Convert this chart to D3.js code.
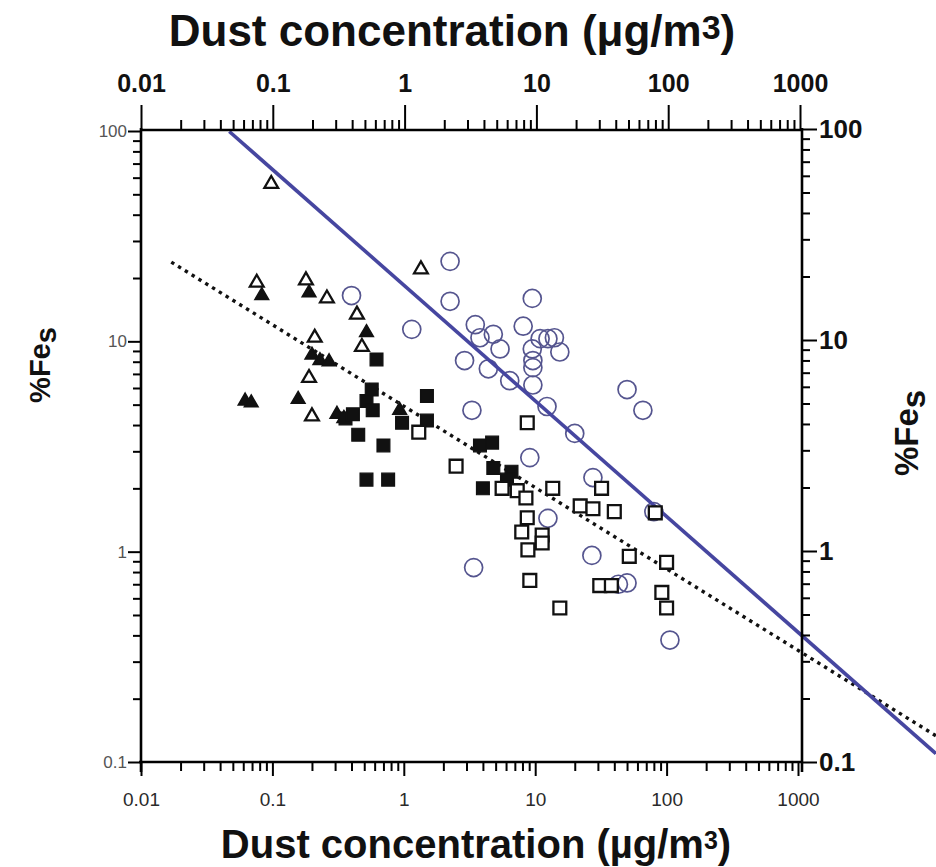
<!DOCTYPE html>
<html>
<head>
<meta charset="utf-8">
<script src="https://cdn.jsdelivr.net/npm/d3@7/dist/d3.min.js"></script>
<style>
  html, body { margin: 0; padding: 0; background: #fff; }
  svg { display: block; }
  text { font-family: "Liberation Sans", Arial, Helvetica, sans-serif; }
</style>
</head>
<body>
<svg id="chart" width="936" height="867"></svg>
<script>
// ---- data: [dust concentration (µg/m3), %Fes] ----
const openTriangles = [
  [0.098, 56], [0.076, 19], [0.18, 19.5], [0.26, 16], [0.44, 13.4],
  [0.48, 9.4], [0.21, 10.4], [0.19, 6.7], [0.2, 4.4], [1.35, 22]
];
const filledTriangles = [
  [0.083, 16.5], [0.19, 17], [0.52, 11], [0.2, 8.6], [0.23, 8.1],
  [0.27, 8.0], [0.062, 5.2], [0.069, 5.1], [0.157, 5.3], [0.31, 4.5],
  [0.35, 4.3], [0.93, 4.7]
];
const filledSquares = [
  [0.62, 8.2], [0.57, 5.9], [0.52, 5.2], [0.58, 4.7], [0.36, 4.3],
  [0.41, 4.5], [0.45, 3.6], [0.7, 3.2], [0.52, 2.2], [0.76, 2.2],
  [1.5, 5.5], [1.5, 4.2], [0.97, 4.1], [3.8, 3.2], [4.7, 3.3],
  [4.8, 2.5], [6.6, 2.4], [4.0, 2.0], [6.1, 2.2]
];
const openSquares = [
  [1.3, 3.7], [8.7, 4.1], [2.5, 2.55], [5.6, 2.0], [7.3, 1.95],
  [8.5, 1.8], [13.6, 2.0], [8.7, 1.45], [7.9, 1.24], [11.3, 1.2],
  [11.3, 1.1], [8.8, 1.02], [9.1, 0.73], [15.4, 0.54], [22, 1.65],
  [27.5, 1.6], [32, 2.0], [40, 1.55], [82, 1.53], [52, 0.95],
  [100, 0.89], [92, 0.64], [100, 0.54], [31, 0.69], [38, 0.69]
];
const openCircles = [
  [2.25, 24], [0.4, 16.5], [2.25, 15.5], [9.5, 16], [1.15, 11.4],
  [3.5, 12], [8.1, 11.8], [3.8, 10.4], [4.8, 10.8], [5.4, 9.2],
  [2.9, 8.1], [4.4, 7.4], [6.4, 6.5], [9.5, 9.2], [10.9, 10.3],
  [12.5, 10.3], [14, 10.4], [15.4, 8.9], [9.6, 8.1], [9.6, 7.5],
  [9.6, 6.2], [3.3, 4.7], [12.3, 4.9], [20, 3.65], [50, 5.9],
  [66, 4.7], [9.1, 2.8], [27.5, 2.25], [12.5, 1.44], [3.4, 0.84],
  [27, 0.96], [43, 0.7], [50, 0.71], [106, 0.38], [80, 1.55]
];

// power-law fits: %Fes = coef * dust^expo, drawn over a dust range
const solidFit = { coef: 18.5, expo: -0.55, from: 0.047, to: 11200 };
const dottedFit = { coef: 4.92, expo: -0.387, from: 0.017, to: 11200 };

// axis ticks
const xMajor = [0.01, 0.1, 1, 10, 100, 1000];
const yMajor = [0.1, 1, 10, 100];
const xTickLabels = ["0.01", "0.1", "1", "10", "100", "1000"];
const yTickLabels = ["0.1", "1", "10", "100"];

// ---- layout ----
const svg = d3.select("#chart");
const x = d3.scaleLog().domain([0.01, 1000]).range([141, 798]);
const xTop = d3.scaleLog().domain([0.01, 1000]).range([141, 800]);
const y = d3.scaleLog().domain([0.1, 100]).range([762, 131]);
const yRight = d3.scaleLog().domain([0.1, 100]).range([762, 129]);

function minorsOf(majors) {
  const out = [];
  for (let i = 0; i < majors.length - 1; i++) {
    for (let k = 2; k <= 9; k++) out.push(majors[i] * k);
  }
  return out;
}
const xMinor = minorsOf(xMajor);
const yMinor = minorsOf(yMajor);

const blue = "#4646a0";
const circleColor = "#55558f";

// ---- fit lines ----
function fitPoints(f) {
  return [f.from, f.to].map(v => [v, f.coef * Math.pow(v, f.expo)]);
}
const line = d3.line().x(d => x(d[0])).y(d => y(d[1]));

svg.append("path")
  .attr("d", line(fitPoints(dottedFit)))
  .attr("fill", "none")
  .attr("stroke", "#111")
  .attr("stroke-width", 3.4)
  .attr("stroke-dasharray", "3.4 4.6");

// ---- markers ----
svg.append("g").selectAll("circle")
  .data(openCircles).join("circle")
  .attr("cx", d => x(d[0])).attr("cy", d => y(d[1]))
  .attr("r", 9)
  .attr("fill", "none")
  .attr("stroke", circleColor)
  .attr("stroke-width", 1.7);

svg.append("path")
  .attr("d", line(fitPoints(solidFit)))
  .attr("fill", "none")
  .attr("stroke", blue)
  .attr("stroke-width", 3.6);

const tri = d3.symbol().type(d3.symbolTriangle).size(82);
const sq = d3.symbol().type(d3.symbolSquare).size(165);

svg.append("g").selectAll("path")
  .data(openTriangles).join("path")
  .attr("d", tri)
  .attr("transform", d => `translate(${x(d[0])},${y(d[1])})`)
  .attr("fill", "#fff").attr("stroke", "#111").attr("stroke-width", 2.3)
  .attr("stroke-linejoin", "miter");

svg.append("g").selectAll("path")
  .data(filledTriangles).join("path")
  .attr("d", tri)
  .attr("transform", d => `translate(${x(d[0])},${y(d[1])})`)
  .attr("fill", "#111").attr("stroke", "#111").attr("stroke-width", 1.5);

svg.append("g").selectAll("path")
  .data(filledSquares).join("path")
  .attr("d", sq)
  .attr("transform", d => `translate(${x(d[0])},${y(d[1])})`)
  .attr("fill", "#111").attr("stroke", "#111").attr("stroke-width", 1.2);

svg.append("g").selectAll("path")
  .data(openSquares).join("path")
  .attr("d", sq)
  .attr("transform", d => `translate(${x(d[0])},${y(d[1])})`)
  .attr("fill", "#fff").attr("stroke", "#111").attr("stroke-width", 2.3);

// ---- axes ----
function styleAxis(g, labelStyle) {
  g.select(".domain").remove();
  g.selectAll(".tick line").attr("stroke", "#000").attr("stroke-width", 2);
  if (labelStyle) {
    g.selectAll(".tick text")
      .attr("fill", labelStyle.fill)
      .attr("font-size", labelStyle.size)
      .attr("font-weight", labelStyle.weight);
  }
}

// bottom
svg.append("g").attr("transform", "translate(0,762)")
  .call(d3.axisBottom(x).tickValues(xMinor).tickSize(9).tickFormat(""))
  .call(g => styleAxis(g));
svg.append("g").attr("transform", "translate(0,762)")
  .call(d3.axisBottom(x).tickValues(xMajor).tickSize(14).tickPadding(17)
    .tickFormat((d, i) => xTickLabels[i]))
  .call(g => styleAxis(g, { fill: "#2a2a2a", size: 19, weight: "normal" }));

// left
svg.append("g").attr("transform", "translate(141,0)")
  .call(d3.axisLeft(y).tickValues(yMinor).tickSize(8).tickFormat(""))
  .call(g => styleAxis(g));
svg.append("g").attr("transform", "translate(141,0)")
  .call(d3.axisLeft(y).tickValues(yMajor).tickSize(13).tickPadding(1)
    .tickFormat((d, i) => yTickLabels[i]))
  .call(g => styleAxis(g, { fill: "#555", size: 17, weight: "normal" }));

// top
svg.append("g").attr("transform", "translate(0,130)")
  .call(d3.axisTop(xTop).tickValues(xMinor).tickSize(10).tickFormat(""))
  .call(g => styleAxis(g));
svg.append("g").attr("transform", "translate(0,130)")
  .call(d3.axisTop(xTop).tickValues(xMajor).tickSize(25).tickPadding(13)
    .tickFormat((d, i) => xTickLabels[i]))
  .call(g => styleAxis(g, { fill: "#111", size: 25, weight: "bold" }));

// right
svg.append("g").attr("transform", "translate(802,0)")
  .call(d3.axisRight(yRight).tickValues(yMinor).tickSize(8).tickFormat(""))
  .call(g => styleAxis(g));
svg.append("g").attr("transform", "translate(802,0)")
  .call(d3.axisRight(yRight).tickValues(yMajor).tickSize(15).tickPadding(2)
    .tickFormat((d, i) => yTickLabels[i]))
  .call(g => styleAxis(g, { fill: "#111", size: 26, weight: "bold" }));

// frame lines
const frame = svg.append("g").attr("stroke", "#000").attr("stroke-width", 2.6);
frame.append("line").attr("x1", 141).attr("x2", 141).attr("y1", 128).attr("y2", 772);
frame.append("line").attr("x1", 139).attr("x2", 803).attr("y1", 762).attr("y2", 762);
frame.append("line").attr("x1", 141).attr("x2", 803).attr("y1", 130).attr("y2", 130);
frame.append("line").attr("x1", 802).attr("x2", 802).attr("y1", 128).attr("y2", 772);

// ---- titles ----
const topTitle = svg.append("text")
  .attr("x", 452).attr("y", 46)
  .attr("text-anchor", "middle")
  .attr("font-size", 44).attr("font-weight", "bold").attr("fill", "#111");
topTitle.append("tspan").text("Dust concentration (\u03bcg/m");
topTitle.append("tspan").attr("baseline-shift", "22%").attr("font-size", 34).text("3");
topTitle.append("tspan").text(")");

const bottomTitle = svg.append("text")
  .attr("x", 476).attr("y", 858)
  .attr("text-anchor", "middle")
  .attr("font-size", 40).attr("font-weight", "bold").attr("fill", "#111");
bottomTitle.append("tspan").text("Dust concentration (\u00b5g/m");
bottomTitle.append("tspan").attr("baseline-shift", "35%").attr("font-size", 25).text("3");
bottomTitle.append("tspan").text(")");

function fesLabel(cx, cy, size) {
  const t = svg.append("text")
    .attr("transform", `translate(${cx},${cy}) rotate(-90)`)
    .attr("text-anchor", "middle")
    .attr("font-size", size).attr("font-weight", "bold").attr("fill", "#111");
  t.append("tspan").text("%Fe");
  t.append("tspan").attr("baseline-shift", "-22%").text("s");
}
fesLabel(50, 365, 29);
fesLabel(918, 433, 33);
</script>
</body>
</html>
